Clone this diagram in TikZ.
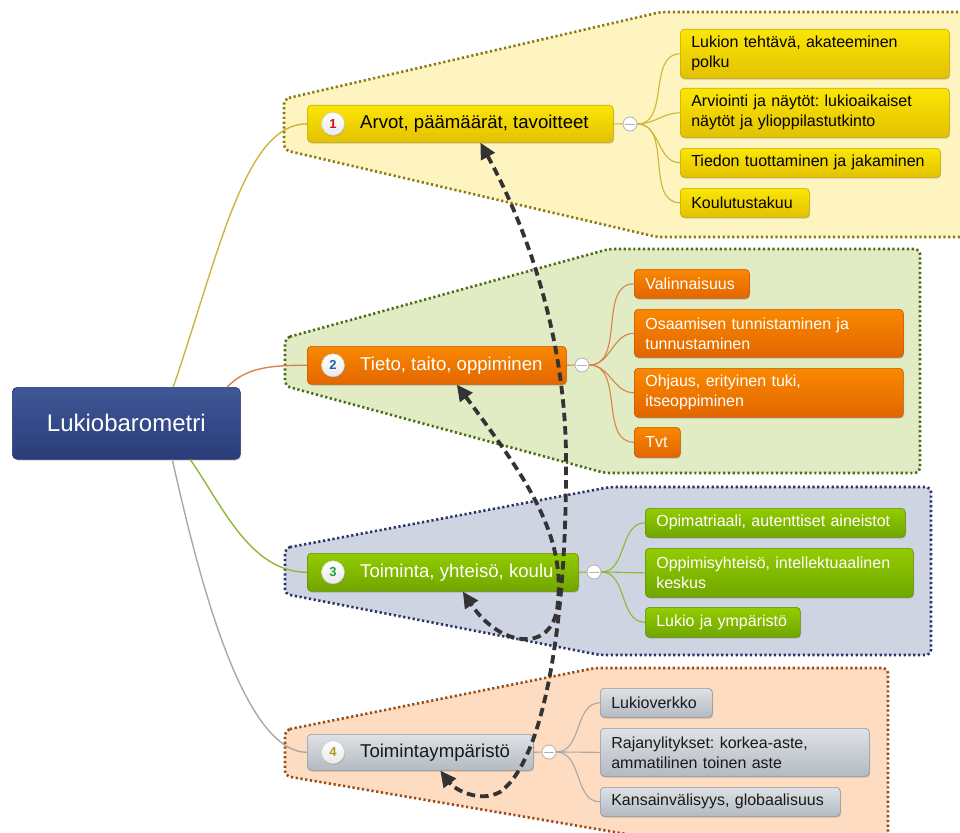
\documentclass[tikz,border=0pt]{standalone}
\usepackage{fontspec}
\setmainfont{Liberation Sans}
\usetikzlibrary{arrows.meta,shadows,calc}

\definecolor{bfillA}{HTML}{FDF4C0}\definecolor{bdrawA}{HTML}{8A7A10}
\definecolor{bfillB}{HTML}{E1ECC5}\definecolor{bdrawB}{HTML}{4B6B14}
\definecolor{bfillC}{HTML}{CFD4E3}\definecolor{bdrawC}{HTML}{283463}
\definecolor{bfillD}{HTML}{FDDCC1}\definecolor{bdrawD}{HTML}{9A4A14}
\definecolor{yTop}{HTML}{FBE606}\definecolor{yBot}{HTML}{E3C100}\definecolor{yEdge}{HTML}{C9A800}
\definecolor{oTop}{HTML}{F98800}\definecolor{oBot}{HTML}{E26600}\definecolor{oEdge}{HTML}{C85A00}
\definecolor{gTop}{HTML}{93CC00}\definecolor{gBot}{HTML}{70A600}\definecolor{gEdge}{HTML}{5F8F00}
\definecolor{aTop}{HTML}{DEE2E6}\definecolor{aBot}{HTML}{B3BAC1}\definecolor{aEdge}{HTML}{8F979F}
\definecolor{cTop}{HTML}{3F5797}\definecolor{cBot}{HTML}{2A3D7A}\definecolor{cEdge}{HTML}{24336A}
\definecolor{lineA}{HTML}{CDB53A}\definecolor{lineB}{HTML}{D9834A}
\definecolor{lineC}{HTML}{8DB832}\definecolor{lineD}{HTML}{A8A8A8}
\definecolor{numA}{HTML}{D01020}\definecolor{numB}{HTML}{1A5FB4}
\definecolor{numC}{HTML}{22A040}\definecolor{numD}{HTML}{B09A20}
\definecolor{relc}{HTML}{333333}

\begin{document}
\frenchspacing
\begin{tikzpicture}[x=1pt,y=-1pt,
  bnd/.style={line width=2.6pt, dash pattern=on 2.2pt off 2.6pt, rounded corners=5pt},
  shad/.style={drop shadow={shadow xshift=0.8pt,shadow yshift=-1.3pt,opacity=0.3,fill=black!60}},
  topic/.style={rounded corners=4pt, inner sep=0pt, anchor=north west, draw, line width=0.6pt, shad},
  tlabel/.style={anchor=west, inner sep=0pt, font=\fontsize{18.6}{22}\selectfont},
  sub/.style={rounded corners=4pt, draw, line width=0.6pt, anchor=north west, align=left,
    inner xsep=11pt, inner ysep=2pt, font=\fontsize{16}{20}\selectfont, shad},
  stA/.style={top color=yTop, bottom color=yBot, draw=yEdge, text=black},
  stB/.style={top color=oTop, bottom color=oBot, draw=oEdge, text=white},
  stC/.style={top color=gTop, bottom color=gBot, draw=gEdge, text=white},
  stD/.style={top color=aTop, bottom color=aBot, draw=aEdge, text=black!90},
  badge/.style={circle, top color=white, bottom color=black!8, draw=black!20, line width=0.5pt,
    minimum size=23pt, inner sep=0pt, font=\bfseries\fontsize{13}{13}\selectfont,
    drop shadow={shadow xshift=0.6pt,shadow yshift=-1.2pt,opacity=0.35}},
  coll/.style={circle, fill=white, draw=black!30, line width=0.8pt, minimum size=14pt, inner sep=0pt},
  mainln/.style={line width=1.4pt},
  subln/.style={line width=1.1pt},
  rel/.style={draw=relc, line width=3.8pt, dash pattern=on 8.5pt off 5pt,
    {Triangle[length=16pt,width=15pt]}-{Triangle[length=16pt,width=15pt]}}
]
\useasboundingbox (0,0) rectangle (960,832);
\clip (0,0) rectangle (960,832);

% boundaries
\draw[bnd, fill=bfillA, draw=bdrawA] (284,99) -- (661,12) -- (975,12) -- (975,237) -- (657,237) -- (284,150) -- cycle;
\draw[bnd, fill=bfillB, draw=bdrawB] (285,338) -- (609,249) -- (920,249) -- (920,473) -- (605,473) -- (285,386) -- cycle;
\draw[bnd, fill=bfillC, draw=bdrawC] (285,548) -- (610,487) -- (931,487) -- (931,655) -- (600,655) -- (285,594) -- cycle;
\draw[bnd, fill=bfillD, draw=bdrawD] (285,730) -- (595,668) -- (888,668) -- (888,850) -- (720,850) -- (285,776) -- cycle;

% central
\node[rounded corners=5pt, top color=cTop, bottom color=cBot, draw=cEdge, line width=0.6pt,
  minimum width=228pt, minimum height=72pt, inner sep=0pt, anchor=north west, shad,
  text=white, font=\fontsize{24}{28}\selectfont] (L) at (12,387) {Lukiobarometri};

% main topics
\node[topic, stA, minimum width=306pt, minimum height=37pt] (t1) at (307,105) {};
\node[topic, stB, minimum width=259pt, minimum height=38pt] (t2) at (307,346) {};
\node[topic, stC, minimum width=271pt, minimum height=38pt] (t3) at (307,553) {};
\node[topic, stD, minimum width=226pt, minimum height=36pt] (t4) at (307,734) {};

\node[tlabel, text=black] (t1l) at ([xshift=53pt]t1.west) {Arvot, päämäärät, tavoitteet};
\node[tlabel, text=white] (t2l) at ([xshift=53pt]t2.west) {Tieto, taito, oppiminen};
\node[tlabel, text=white] (t3l) at ([xshift=53pt]t3.west) {Toiminta, yhteisö, koulu};
\node[tlabel, text=black!90] (t4l) at ([xshift=53pt]t4.west) {Toimintaympäristö};

\node[badge, text=numA] (b1) at ([xshift=26pt]t1.west) {1};
\node[badge, text=numB] (b2) at ([xshift=26pt]t2.west) {2};
\node[badge, text=numC] (b3) at ([xshift=26pt]t3.west) {3};
\node[badge, text=numD] (b4) at ([xshift=26pt]t4.west) {4};

% collapse circles
\node[coll] (c1) at (630,124) {};
\node[coll] (c2) at (582,365) {};
\node[coll] (c3) at (594,572) {};
\node[coll] (c4) at (549,752) {};

% subtopics
\node[sub, stA, text width=247pt, minimum height=49pt] (s1a) at (680,29) {Lukion tehtävä, akateeminen\\polku};
\node[sub, stA, text width=247pt, minimum height=49pt] (s1b) at (680,88) {Arviointi ja näytöt: lukioaikaiset\\näytöt ja ylioppilastutkinto};
\node[sub, stA, text width=238pt, minimum height=29pt] (s1c) at (680,148) {Tiedon tuottaminen ja jakaminen};
\node[sub, stA, text width=107pt, minimum height=29pt] (s1d) at (680,188) {Koulutustakuu};

\node[sub, stB, text width=93pt, minimum height=29pt] (s2a) at (634,269) {Valinnaisuus};
\node[sub, stB, text width=247pt, minimum height=48pt] (s2b) at (634,309) {Osaamisen tunnistaminen ja\\tunnustaminen};
\node[sub, stB, text width=247pt, minimum height=49pt] (s2c) at (634,368) {Ohjaus, erityinen tuki,\\itseoppiminen};
\node[sub, stB, text width=24pt, minimum height=30pt] (s2d) at (634,427) {Tvt};

\node[sub, stC, text width=238pt, minimum height=29pt] (s3a) at (645,508) {Opimatriaali, autenttiset aineistot};
\node[sub, stC, text width=246pt, minimum height=49pt] (s3b) at (645,548) {Oppimisyhteisö, intellektuaalinen\\keskus};
\node[sub, stC, text width=133pt, minimum height=30pt] (s3c) at (645,607) {Lukio ja ympäristö};

\node[sub, stD, text width=90pt, minimum height=29pt] (s4a) at (600,688) {Lukioverkko};
\node[sub, stD, text width=247pt, minimum height=48pt] (s4b) at (600,728) {Rajanylitykset: korkea-aste,\\ammatilinen toinen aste};
\node[sub, stD, text width=218pt, minimum height=29pt] (s4c) at (600,787) {Kansainvälisyys, globaalisuus};

% central -> topics
\draw[mainln, lineA] ([xshift=47pt]L.north) .. controls (220,250) and (245,124) .. (t1.west);
\draw[mainln, lineB] ([xshift=101pt]L.north) .. controls (245,368) and (270,365) .. (t2.west);
\draw[mainln, lineC] ([xshift=64pt]L.south) .. controls (222,505) and (250,572) .. (t3.west);
\draw[mainln, lineD] ([xshift=46pt]L.south) .. controls (195,560) and (240,752) .. (t4.west);

% topic -> collapse circle
\draw[subln, lineA] (t1.east) -- (c1.west);
\draw[subln, lineB] (t2.east) -- (c2.west);
\draw[subln, lineC] (t3.east) -- (c3.west);
\draw[subln, lineD] (t4.east) -- (c4.west);
\foreach \c in {c1,c2,c3,c4}{
  \draw[black!30, line width=0.7pt] ([xshift=2pt]\c.west) -- ([xshift=-2pt]\c.east);
}

% circle -> subtopics
\foreach \s in {s1a,s1b,s1c,s1d}{\draw[subln, lineA] (c1.east) to[out=0,in=180] (\s.west);}
\foreach \s in {s2a,s2b,s2c,s2d}{\draw[subln, lineB] (c2.east) to[out=0,in=180] (\s.west);}
\foreach \s in {s3a,s3b,s3c}{\draw[subln, lineC] (c3.east) to[out=0,in=180] (\s.west);}
\foreach \s in {s4a,s4b,s4c}{\draw[subln, lineD] (c4.east) to[out=0,in=180] (\s.west);}

% relationships
\coordinate (ra) at (566,470);
\coordinate (rb) at (500,792);
\coordinate (rc) at (558,600);
\draw[rel] ([xshift=20pt]t1.south) .. controls (520,215) and (568,330) .. (ra)
   .. controls (566,620) and (545,760) .. (rb)
   .. controls (480,803) and (455,790) .. ([xshift=20pt]t4.south);
\draw[rel] ([xshift=20pt]t2.south) .. controls (520,470) and (565,530) .. (rc)
   .. controls (556,655) and (500,648) .. ([xshift=20pt]t3.south);
\end{tikzpicture}
\end{document}
